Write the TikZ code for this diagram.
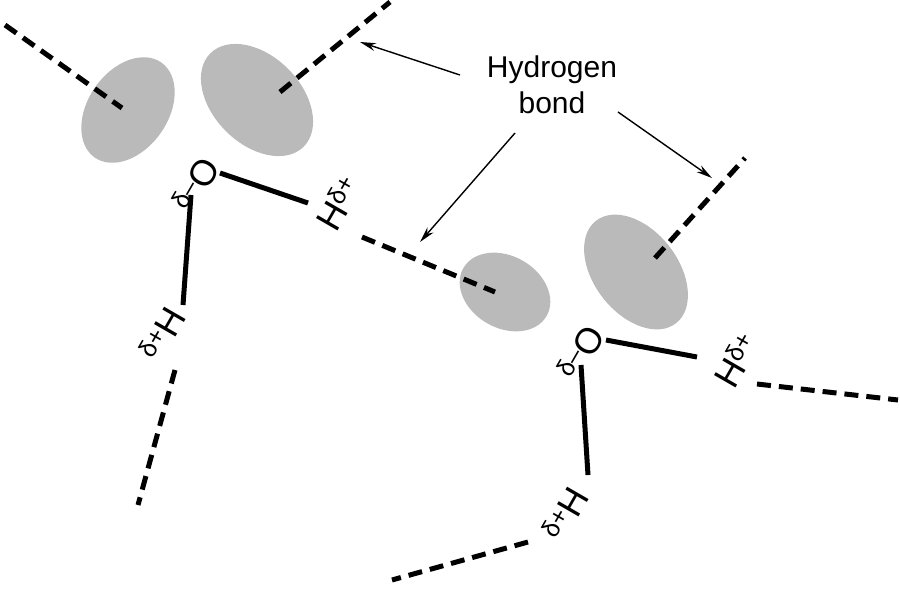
\documentclass[tikz,border=0pt]{standalone}
\usepackage{fontspec}
\setmainfont{Liberation Sans}
\usetikzlibrary{arrows.meta}
\newcommand{\dsup}[1]{\raisebox{0.5ex}{\fontsize{25}{25}\selectfont #1}}
\begin{document}
\begin{tikzpicture}[x=1pt,y=-1pt,
  lobe/.style={fill=black!27,draw=none},
  bondline/.style={line width=5pt},
  hbond/.style={line width=5pt,dash pattern=on 14pt off 8pt},
  arr/.style={line width=1.4pt,-{Stealth[length=16pt,width=8pt]}},
  lab/.style={font=\fontsize{36}{36}\selectfont,inner sep=0pt}]
\useasboundingbox (0,0) rectangle (900,600);
% molecule 1 lobes
\fill[lobe,rotate around={-35:(128,110)}] (128,110) ellipse [x radius=40, y radius=58];
\fill[lobe,rotate around={45:(257,100)}] (257,100) ellipse [x radius=44, y radius=66];
% molecule 2 lobes
\fill[lobe,rotate around={-30:(505,292)}] (505,292) ellipse [x radius=48, y radius=36];
\fill[lobe,rotate around={38:(636,272)}] (636,272) ellipse [x radius=42, y radius=65];
% molecule 1
\node[lab,rotate=60,anchor=east] (o1) at (210,160) {\dsup{δ–}O};
\coordinate (o1r) at (220,173); \coordinate (h1a) at (308,203);
\draw[bondline] (o1r) -- (h1a);
\node[lab,rotate=60] (h1) at (338,203) {H\dsup{δ+}};
\coordinate (o1d) at (191,195); \coordinate (h1b) at (183,305);
\draw[bondline] (o1d) -- (h1b);
\node[lab,rotate=60] (h2) at (162,334) {\dsup{δ+}H};
\coordinate (d1a) at (5,25); \coordinate (d1b) at (122,108);
\draw[hbond] (d1a) -- (d1b);
\coordinate (d2a) at (280,92); \coordinate (d2b) at (390,2);
\draw[hbond] (d2a) -- (d2b);
\coordinate (d3a) at (362,237); \coordinate (d3b) at (495,292);
\draw[hbond] (d3a) -- (d3b);
\coordinate (d4a) at (175,370); \coordinate (d4b) at (138,505);
\draw[hbond] (d4a) -- (d4b);
% molecule 2
\node[lab,rotate=60,anchor=east] (o2) at (595,328) {\dsup{δ–}O};
\coordinate (o2r) at (606,340); \coordinate (h3a) at (697,357);
\draw[bondline] (o2r) -- (h3a);
\node[lab,rotate=60] (h3) at (736,360) {H\dsup{δ+}};
\coordinate (o2d) at (581,365); \coordinate (h4b) at (588,475);
\draw[bondline] (o2d) -- (h4b);
\node[lab,rotate=60] (h4) at (565,514) {\dsup{δ+}H};
\coordinate (d5a) at (655,258); \coordinate (d5b) at (745,158);
\draw[hbond] (d5a) -- (d5b);
\coordinate (d6a) at (757,384); \coordinate (d6b) at (898,400);
\draw[hbond] (d6a) -- (d6b);
\coordinate (d7a) at (528,542); \coordinate (d7b) at (392,580);
\draw[hbond] (d7a) -- (d7b);
% label
\node[font=\fontsize{30}{36}\selectfont,align=center] (hb) at (552,85) {Hydrogen\\bond};
\coordinate (t1) at (360,42); \coordinate (t2) at (420,242); \coordinate (t3) at (712,178);
\draw[arr] (460,75) -- (t1);
\draw[arr] (515,133) -- (t2);
\draw[arr] (618,112) -- (t3);
\end{tikzpicture}
\end{document}
